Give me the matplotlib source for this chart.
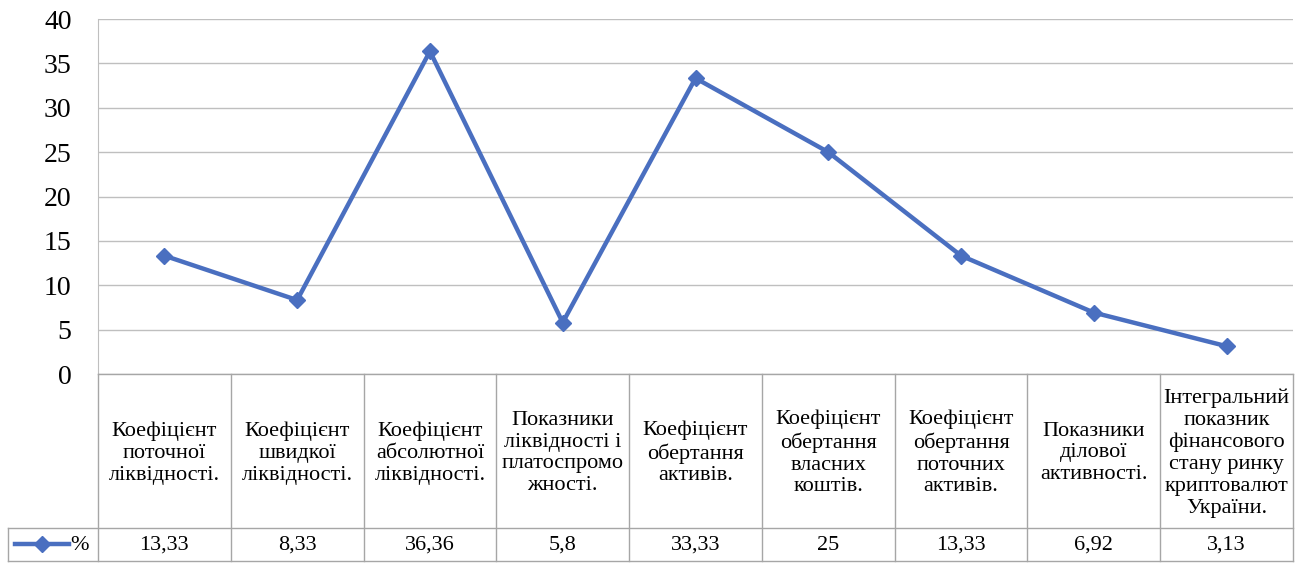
import matplotlib.pyplot as plt
import numpy as np

plt.rcParams['font.family'] = ['Liberation Serif', 'DejaVu Serif']

# дані
categories = [
    'Коефіцієнт\nпоточної\nліквідності.',
    'Коефіцієнт\nшвидкої\nліквідності.',
    'Коефіцієнт\nабсолютної\nліквідності.',
    'Показники\nліквідності і\nплатоспромо\nжності.',
    'Коефіцієнт\nобертання\nактивів.',
    'Коефіцієнт\nобертання\nвласних\nкоштів.',
    'Коефіцієнт\nобертання\nпоточних\nактивів.',
    'Показники\nділової\nактивності.',
    'Інтегральний\nпоказник\nфінансового\nстану ринку\nкриптовалют\nУкраїни.',
]
values = [13.33, 8.33, 36.36, 5.8, 33.33, 25, 13.33, 6.92, 3.13]
value_labels = ['13,33', '8,33', '36,36', '5,8', '33,33', '25', '13,33', '6,92', '3,13']
series_name = '%'

W, H = 1302, 563
color = '#4A6FC0'
grid_c = '#BFBFBF'
tab_c = '#A6A6A6'

fig = plt.figure(figsize=(W / 100, H / 100), dpi=100)

left, right = 98, 1293
top, zero = 19, 374
ax = fig.add_axes([left / W, 1 - zero / H, (right - left) / W, (zero - top) / H])

x = np.arange(len(values))
ax.plot(x, values, color=color, lw=3.2, marker='D', ms=8, zorder=3)
ax.set_xlim(-0.5, len(values) - 0.5)
ax.set_ylim(0, 40)
ax.set_yticks(range(0, 41, 5))
ax.yaxis.grid(True, color=grid_c, lw=1)
ax.set_axisbelow(True)
ax.set_xticks([])
for s in ['top', 'right', 'bottom']:
    ax.spines[s].set_visible(False)
ax.spines['left'].set_color(grid_c)
ax.tick_params(axis='y', length=0, pad=19, labelsize=20)

# таблиця даних
row_mid = 528
bottom = 561
leg_left = 8
tax = fig.add_axes([left / W, 1 - bottom / H, (right - left) / W, (bottom - zero) / H])
tax.set_xlim(-0.5, len(values) - 0.5)
tax.set_ylim(bottom, zero)
tax.axis('off')
cw = (right - left) / len(values)
xl = -0.5 - (left - leg_left) / cw

kw = dict(color=tab_c, lw=1, clip_on=False)
tax.plot([-0.5, len(values) - 0.5], [zero, zero], **kw)
tax.plot([xl, len(values) - 0.5], [row_mid, row_mid], **kw)
tax.plot([xl, len(values) - 0.5], [bottom, bottom], **kw)
tax.plot([xl, xl], [row_mid, bottom], **kw)
for i in range(len(values) + 1):
    tax.plot([i - 0.5, i - 0.5], [zero, bottom], **kw)

for i, (c, v) in enumerate(zip(categories, value_labels)):
    tax.text(i, (zero + row_mid) / 2 + 2, c, ha='center', va='center',
             fontsize=16, linespacing=1.2)
    tax.text(i, (row_mid + bottom) / 2 + 1, v, ha='center', va='center', fontsize=16)

# легенда
lx0 = xl + 0.05
lx1 = -0.5 - 0.22
ly = (row_mid + bottom) / 2
tax.plot([lx0, lx1], [ly, ly], color=color, lw=3.2, clip_on=False)
tax.plot([(lx0 + lx1) / 2], [ly], color=color, marker='D', ms=8, clip_on=False)
tax.text(lx1 + 0.01, ly + 1, series_name, ha='left', va='center', fontsize=16)

fig.savefig('out.png', dpi=100)
